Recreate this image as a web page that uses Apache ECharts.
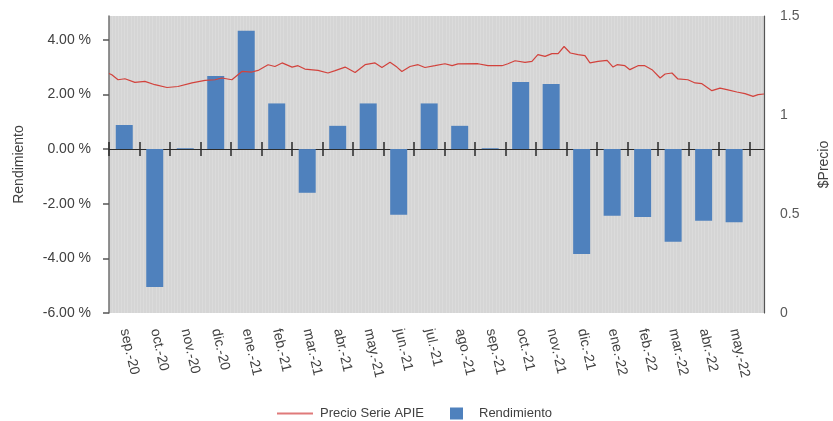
<!DOCTYPE html>
<html>
<head>
<meta charset="utf-8">
<script src="https://cdn.jsdelivr.net/npm/echarts@6/dist/echarts.min.js"></script>
<style>
html,body{margin:0;padding:0;background:#fff;}
#main{width:833px;height:421px;}
</style>
</head>
<body>
<div id="main"></div>
<script>
var categories = ['sep.-20','oct.-20','nov.-20','dic.-20','ene.-21','feb.-21','mar.-21','abr.-21','may.-21','jun.-21','jul.-21','ago.-21','sep.-21','oct.-21','nov.-21','dic.-21','ene.-22','feb.-22','mar.-22','abr.-22','may.-22'];
var rendimiento = [0.88,-5.05,0.03,2.67,4.33,1.67,-1.60,0.85,1.67,-2.40,1.67,0.85,0.03,2.45,2.38,-3.84,-2.44,-2.49,-3.39,-2.62,-2.68];
// price line: position in months from start of sep-20 (plot width = 21 units), and price
var priceT = [0,0.09,0.29,0.51,0.83,1.15,1.47,1.86,2.21,2.66,3.08,3.40,3.62,3.94,4.26,4.58,4.78,5.10,5.32,5.55,5.87,6.06,6.28,6.70,7.02,7.25,7.57,7.89,8.21,8.53,8.75,9.01,9.23,9.39,9.65,9.91,10.13,10.45,10.77,11.00,11.19,11.83,12.15,12.60,12.79,13.02,13.34,13.56,13.75,13.98,14.20,14.40,14.59,14.79,15.04,15.26,15.42,15.68,15.97,16.16,16.29,16.54,16.70,16.96,17.18,17.41,17.67,17.83,18.05,18.24,18.56,18.79,19.01,19.33,19.59,19.81,20.13,20.39,20.65,20.81,21.0];
var priceV = [1.210,1.203,1.178,1.183,1.165,1.170,1.153,1.139,1.144,1.162,1.175,1.178,1.187,1.178,1.220,1.217,1.225,1.254,1.245,1.263,1.242,1.249,1.232,1.225,1.212,1.224,1.242,1.215,1.254,1.263,1.240,1.266,1.242,1.220,1.245,1.254,1.240,1.249,1.259,1.249,1.258,1.259,1.249,1.249,1.259,1.274,1.266,1.271,1.305,1.296,1.310,1.310,1.346,1.313,1.305,1.300,1.263,1.271,1.276,1.242,1.254,1.249,1.229,1.249,1.249,1.229,1.187,1.207,1.212,1.182,1.178,1.162,1.158,1.123,1.136,1.128,1.116,1.108,1.094,1.103,1.106];
var leftTicks = [-6,-4,-2,0,2,4];
var rightTicks = [0,0.5,1,1.5];

var catIdx = categories.map(function(c,i){return i;});
var catBounds = categories.map(function(c,i){return i-0.5;}).concat([categories.length-0.5]);
var barData = rendimiento.map(function(v,i){return [i, v];});
var priceData = priceT.map(function(t,i){return [t, priceV[i]];});
var FONT = 'Liberation Sans';
var X_MIN = -0.5, X_MAX = 20.98; // category axis leaves a gap at the right of the plot

var chart = echarts.init(document.getElementById('main'), null, {renderer:'canvas'});
chart.setOption({
  animation:false,
  textStyle:{fontFamily:FONT},
  grid:{left:109,right:69,top:16,bottom:108,show:true,backgroundColor:'#d5d5d5',borderWidth:0,
        containLabel:false,outerBoundsMode:'none'},
  legend:[{
    data:[{name:'Precio Serie APIE', icon:'rect', itemStyle:{color:'#e07a7a'}}],
    left:277, top:407, padding:0, itemWidth:36, itemHeight:2,
    textStyle:{color:'#404040',fontSize:13,fontFamily:FONT,padding:[0,0,0,2]}
  },{
    data:[{name:'Rendimiento', icon:'rect'}],
    left:450, top:407, padding:0, itemWidth:13, itemHeight:12,
    textStyle:{color:'#404040',fontSize:13,fontFamily:FONT,padding:[0,0,0,11]}
  }],
  xAxis:[{
    type:'value', min:X_MIN, max:X_MAX, position:'bottom',
    axisLine:{show:false,onZero:false}, axisTick:{show:false},
    axisLabel:{customValues:catIdx,rotate:-77,margin:16,color:'#404040',fontSize:14,fontFamily:FONT,
      formatter:function(v){return categories[Math.round(v)];}},
    splitLine:{show:false}
  },{
    type:'value', min:X_MIN, max:X_MAX,
    axisLine:{show:true,onZero:true,onZeroAxisIndex:0,lineStyle:{color:'#2a2a2a',width:1}},
    axisTick:{show:true,inside:false,length:7,customValues:catBounds,lineStyle:{color:'#2a2a2a',width:1.5}},
    axisLabel:{show:false}, splitLine:{show:false}
  },{
    type:'value', min:X_MIN, max:X_MAX,
    axisLine:{show:false,onZero:true,onZeroAxisIndex:0},
    axisTick:{show:true,inside:true,length:7,customValues:catBounds,lineStyle:{color:'#2a2a2a',width:1.5}},
    axisLabel:{show:false}, splitLine:{show:false}
  },{
    type:'value', min:0, max:21, interval:0.1, position:'top',
    axisLine:{show:false,onZero:false}, axisTick:{show:false}, axisLabel:{show:false},
    splitLine:{show:true,lineStyle:{color:'#dbdbdb',width:1}}
  }],
  yAxis:[{
    type:'value', min:-6, max:4.87, position:'left',
    name:'Rendimiento', nameLocation:'middle', nameGap:83, nameRotate:90,
    nameTextStyle:{color:'#404040',fontSize:14,fontFamily:FONT},
    axisLine:{show:true,onZero:false,lineStyle:{color:'#6f6f6f',width:1.5}},
    axisTick:{show:true,length:6,customValues:leftTicks,lineStyle:{color:'#555',width:1.5}},
    axisLabel:{customValues:leftTicks,margin:18,color:'#404040',fontSize:14,fontFamily:FONT,
      formatter:function(v){return v.toFixed(2)+' %';}},
    splitLine:{show:false}
  },{
    type:'value', min:0, max:1.5, position:'right',
    name:'$Precio', nameLocation:'middle', nameGap:53, nameRotate:90,
    nameTextStyle:{color:'#404040',fontSize:14,fontFamily:FONT},
    axisLine:{show:true,onZero:false,lineStyle:{color:'#555',width:1.2}},
    axisTick:{show:false},
    axisLabel:{customValues:rightTicks,margin:16,color:'#595959',fontSize:14,fontFamily:FONT},
    splitLine:{show:false}
  }],
  series:[{
    name:'Rendimiento', type:'bar', xAxisIndex:0, yAxisIndex:0,
    data:barData, barWidth:17,
    itemStyle:{color:'#4f81bd'}
  },{
    name:'Precio Serie APIE', type:'line', xAxisIndex:3, yAxisIndex:1,
    data:priceData, symbol:'none', showSymbol:false,
    lineStyle:{color:'#d2423c',width:1.2},
    itemStyle:{color:'#e07a7a'}
  }]
});
</script>
</body>
</html>
